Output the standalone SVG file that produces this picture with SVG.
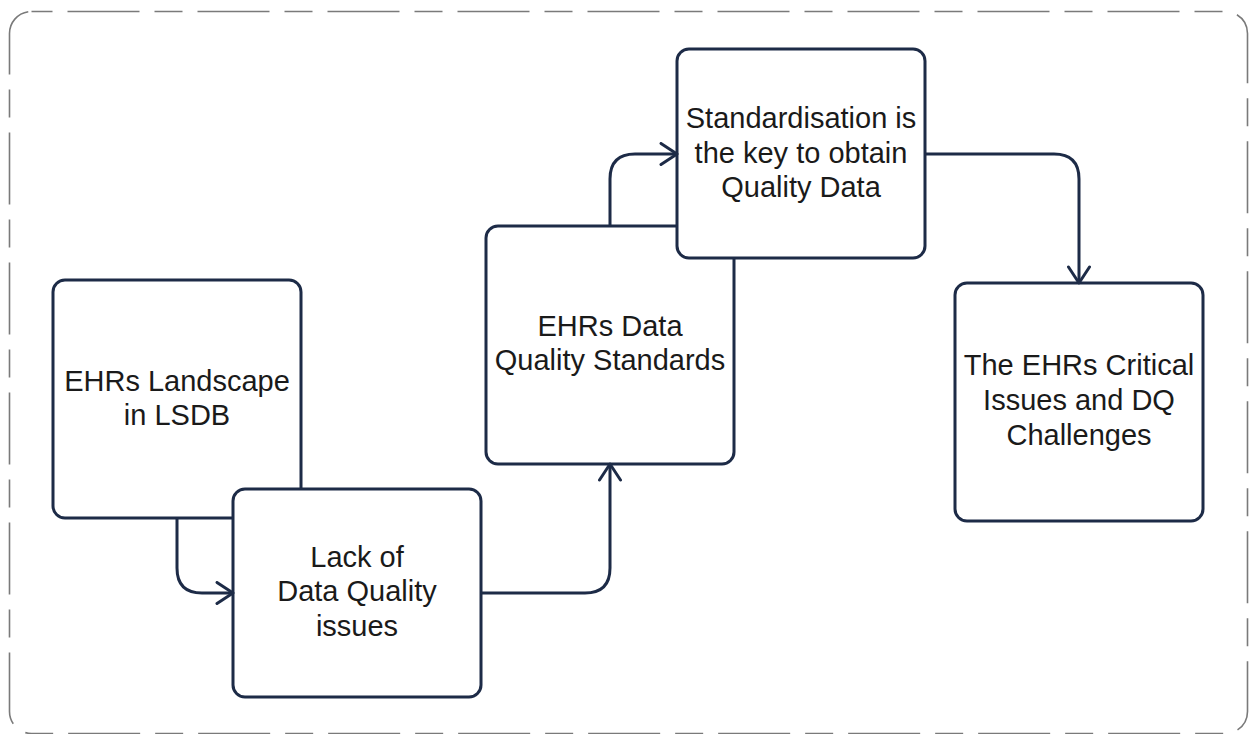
<svg xmlns="http://www.w3.org/2000/svg" width="1250" height="734" viewBox="0 0 1250 734">
  <style>
    .frame { fill: none; stroke: #7a7a7a; stroke-width: 1.6; stroke-dasharray: 72 15 28 15; }
    .box { fill: #ffffff; stroke: #1d2b47; stroke-width: 3; }
    .label { font-family: "Liberation Sans", Arial, sans-serif; font-size: 29px; fill: #1a1a1a; text-anchor: middle; }
    .link { fill: none; stroke: #1d2b47; stroke-width: 3; stroke-linejoin: round; marker-end: url(#chevron); }
  </style>
  <defs>
    <marker id="chevron" viewBox="0 0 24 24" refX="21" refY="12" markerWidth="24" markerHeight="24" markerUnits="userSpaceOnUse" orient="auto">
      <path d="M5 1.5 L21 12 L5 22.5" fill="none" stroke="#1d2b47" stroke-width="3" stroke-linecap="round" stroke-linejoin="round"/>
    </marker>
  </defs>

  <!-- dashed outer frame -->
  <rect class="frame" x="9.5" y="11.5" width="1238" height="722" rx="22" ry="22" stroke-dashoffset="-36"/>

  <g id="node-landscape">
    <rect class="box" x="53" y="280" width="248" height="238" rx="12"/>
    <text class="label" x="177" y="391">EHRs Landscape</text>
    <text class="label" x="177" y="425">in LSDB</text>
  </g>

  <g id="node-lack">
    <rect class="box" x="233" y="489" width="248" height="208" rx="12"/>
    <text class="label" x="357" y="567">Lack of</text>
    <text class="label" x="357" y="601">Data Quality</text>
    <text class="label" x="357" y="636">issues</text>
  </g>

  <g id="node-standards">
    <rect class="box" x="486" y="226" width="248" height="238" rx="12"/>
    <text class="label" x="610" y="336">EHRs Data</text>
    <text class="label" x="610" y="370">Quality Standards</text>
  </g>

  <g id="node-standardisation">
    <rect class="box" x="677" y="49" width="248" height="209" rx="12"/>
    <text class="label" x="801" y="128">Standardisation is</text>
    <text class="label" x="801" y="163">the key to obtain</text>
    <text class="label" x="801" y="197">Quality Data</text>
  </g>

  <g id="node-critical">
    <rect class="box" x="955" y="283" width="248" height="238" rx="12"/>
    <text class="label" x="1079" y="375">The EHRs Critical</text>
    <text class="label" x="1079" y="410">Issues and DQ</text>
    <text class="label" x="1079" y="445">Challenges</text>
  </g>

  <g id="connectors">
    <path class="link" d="M177 518 V568 Q177 593 202 593 H233"/>
    <path class="link" d="M481 593 H585 Q610 593 610 568 V464"/>
    <path class="link" d="M610 226 V179 Q610 154 635 154 H677"/>
    <path class="link" d="M925 154 H1054 Q1079 154 1079 179 V283"/>
  </g>
</svg>
